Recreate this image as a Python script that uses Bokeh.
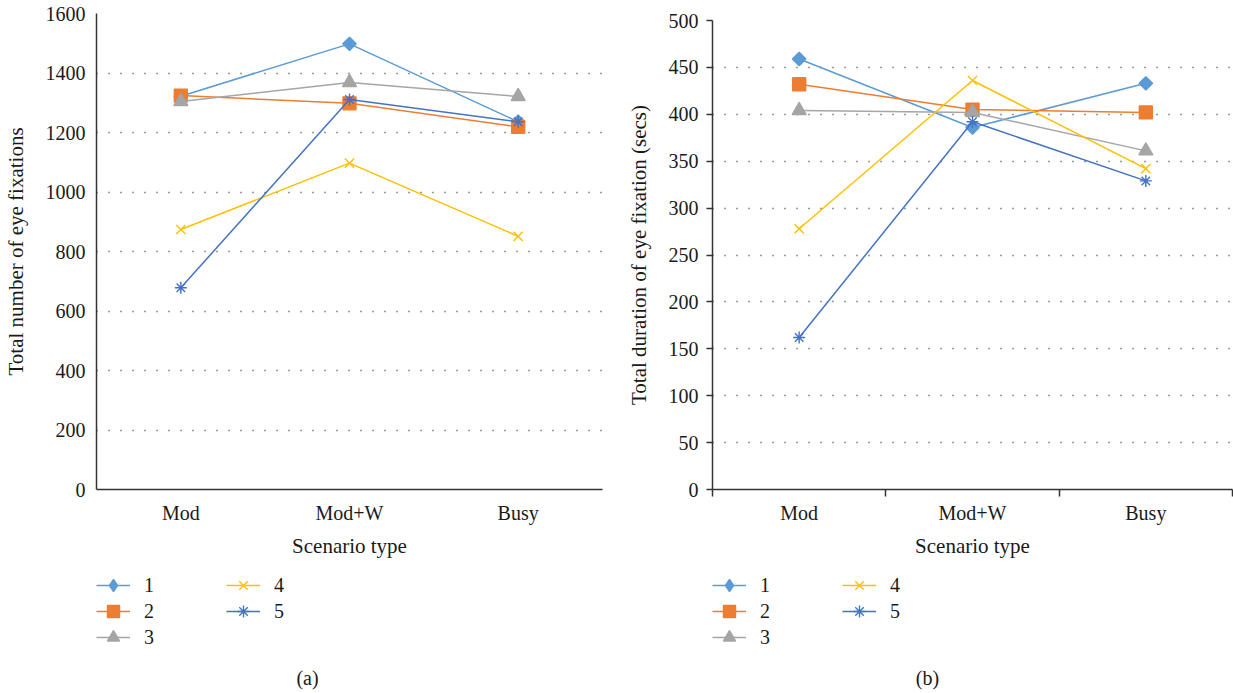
from bokeh.plotting import figure
from bokeh.layouts import row, column
from bokeh.models import Range1d, FixedTicker, Legend, LegendItem, Label
from bokeh.embed import file_html
from bokeh.resources import INLINE
import numpy as np

# Scenario categories and participant series
scenarios = ["Mod", "Mod+W", "Busy"]
participants = ["1", "2", "3", "4", "5"]

# (a) total number of eye fixations
fixations_1 = [1322, 1498, 1236]
fixations_2 = [1324, 1298, 1219]
fixations_3 = [1304, 1368, 1321]
fixations_4 = [874, 1097, 851]
fixations_5 = [678, 1311, 1236]

# (b) total duration of eye fixation (secs)
duration_1 = [459, 386, 433]
duration_2 = [432, 405, 402]
duration_3 = [404, 402, 361]
duration_4 = [278, 436, 342]
duration_5 = [162, 392, 329]

count_ticks = [0, 200, 400, 600, 800, 1000, 1200, 1400, 1600]
duration_ticks = [0, 50, 100, 150, 200, 250, 300, 350, 400, 450, 500]

FONT = "Liberation Serif"
TEXT = "#1a1a1a"
AXIS = "#333333"
COLORS = ["#5B9BD5", "#ED7D31", "#A5A5A5", "#FFC000", "#4472C4"]
MARKERS = [
    dict(marker="square", size=9.5, angle=np.pi / 4),
    dict(marker="square", size=13),
    dict(marker="triangle", size=14),
    dict(marker="x", size=13),
    dict(marker="asterisk", size=12),
]
# legend swatches draw markers upright, so the diamond is given directly
KEY_MARKERS = ["diamond", "square", "triangle", "x", "asterisk"]
# legend grid: (column, row) for each participant, 3 rows in the first column
KEY_CELLS = [(0, 0), (0, 1), (0, 2), (1, 0), (1, 1)]

x_pos = [i + 0.5 for i in range(len(scenarios))]

TOP_H = 570          # chart part of each panel
KEY_H = 693 - TOP_H  # legend + caption part
ROW_STEP = 26
COL_STEP = 130
SWATCH_H = 30


def make_chart(series, ymax, yticks, ylabel, frame_top, left_border, right_border, width, with_ticks):
    p = figure(
        width=width, height=TOP_H,
        x_range=Range1d(0, len(scenarios)), y_range=Range1d(0, ymax),
        output_backend="svg", toolbar_location=None,
        min_border_left=left_border, min_border_right=right_border,
        min_border_top=frame_top, min_border_bottom=TOP_H - 489,
    )
    p.outline_line_color = None
    p.border_fill_color = "white"

    p.xgrid.visible = False
    p.ygrid.ticker = FixedTicker(ticks=yticks)
    p.ygrid.grid_line_color = AXIS
    p.ygrid.grid_line_dash = "1 11"
    p.ygrid.grid_line_width = 1.3

    xa = p.xaxis[0]
    xa.ticker = FixedTicker(ticks=x_pos, minor_ticks=list(range(len(scenarios) + 1)))
    xa.major_label_overrides = {x: s for x, s in zip(x_pos, scenarios)}
    xa.axis_label = "Scenario type"
    xa.major_tick_out = 0
    xa.major_tick_in = 0
    xa.minor_tick_in = 0
    xa.minor_tick_out = 7 if with_ticks else 0

    ya = p.yaxis[0]
    ya.ticker = FixedTicker(ticks=yticks)
    ya.axis_label = ylabel
    ya.minor_tick_in = 0
    ya.minor_tick_out = 0
    ya.major_tick_in = 0
    ya.major_tick_out = 6 if with_ticks else 0

    for ax in (xa, ya):
        ax.axis_line_color = AXIS
        ax.axis_line_width = 1.5
        ax.major_tick_line_color = AXIS
        ax.major_tick_line_width = 1.5
        ax.minor_tick_line_color = AXIS
        ax.minor_tick_line_width = 1.5
        ax.major_label_text_font = FONT
        ax.major_label_text_font_size = "20px"
        ax.major_label_text_color = TEXT
        ax.axis_label_text_font = FONT
        ax.axis_label_text_font_size = "21px"
        ax.axis_label_text_font_style = "normal"
        ax.axis_label_text_color = TEXT
    xa.major_label_standoff = 5 if with_ticks else 12
    xa.axis_label_standoff = 7
    ya.major_label_standoff = 8 if with_ticks else 11
    ya.axis_label_standoff = 15

    for vals, color, mk in zip(series, COLORS, MARKERS):
        p.line(x_pos, vals, line_color=color, line_width=1.5)
        p.scatter(x_pos, vals, fill_color=color, line_color=color, line_width=1.4, **mk)
    return p


def make_key(width, left_border, right_border, tag, tag_x):
    k = figure(
        width=width, height=KEY_H,
        x_range=Range1d(0, 1), y_range=Range1d(0, 1),
        output_backend="svg", toolbar_location=None,
        x_axis_location=None, y_axis_location=None,
        min_border_left=left_border, min_border_right=right_border,
        min_border_top=0, min_border_bottom=0,
    )
    k.outline_line_color = None
    k.grid.visible = False
    k.border_fill_color = "white"

    # legend swatches: one sample point kept outside the visible range
    for name, color, mk, (c, r) in zip(participants, COLORS, KEY_MARKERS, KEY_CELLS):
        ln = k.line([-5, -4], [-5, -5], line_color=color, line_width=1.5)
        sc = k.scatter([-5], [-5], marker=mk, size=12, fill_color=color,
                       line_color=color, line_width=1.4)
        lg = Legend(
            items=[LegendItem(label=name, renderers=[ln, sc])],
            location=(c * COL_STEP, KEY_H - r * ROW_STEP - SWATCH_H),
            padding=0, margin=0, spacing=0,
            glyph_width=34, glyph_height=SWATCH_H, label_height=20,
            label_standoff=14,
            label_text_font=FONT, label_text_font_size="20px",
            label_text_color=TEXT,
            border_line_color=None, background_fill_alpha=0,
        )
        k.add_layout(lg, "center")

    k.add_layout(Label(
        x=tag_x, y=693 - 677, x_units="screen", y_units="screen", text=tag,
        text_font=FONT, text_font_size="20px", text_color=TEXT,
        text_align="center", text_baseline="middle",
    ))
    return k


chart_a = make_chart(
    [fixations_1, fixations_2, fixations_3, fixations_4, fixations_5],
    1600, count_ticks, "Total number of eye fixations",
    13, 92, 14, 616, False,
)
chart_b = make_chart(
    [duration_1, duration_2, duration_3, duration_4, duration_5],
    500, duration_ticks, "Total duration of eye fixation (secs)",
    20, 96, 1, 617, True,
)
key_a = make_key(616, 92, 14, "(a)", 211)
key_b = make_key(617, 96, 1, "(b)", 215)

layout = row(column(chart_a, key_a, spacing=0), column(chart_b, key_b, spacing=0), spacing=0)
open("out.html", "w").write(file_html(layout, INLINE))
